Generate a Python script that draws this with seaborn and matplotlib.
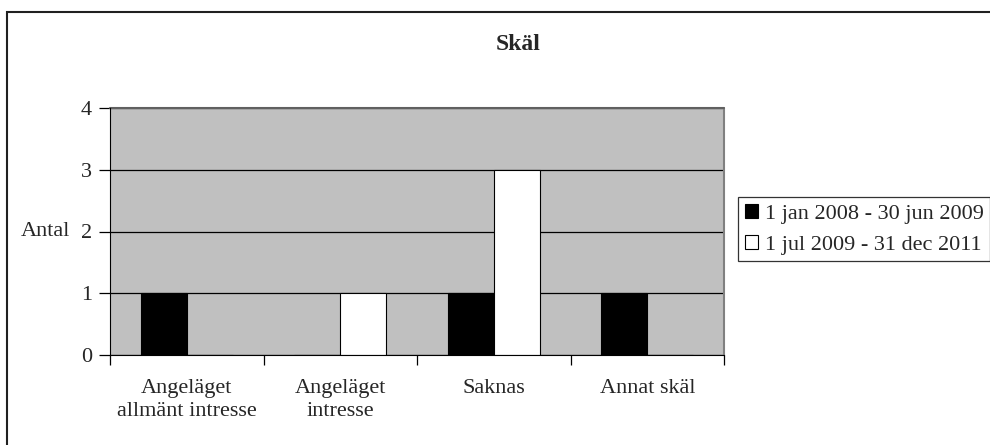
import matplotlib
matplotlib.use("Agg")
import matplotlib.pyplot as plt
from matplotlib.patches import Rectangle, Patch
import seaborn as sns
import pandas as pd

categories = ["Angeläget\nallmänt intresse", "Angeläget\nintresse", "Saknas", "Annat skäl"]
series_names = ["1 jan 2008 - 30 jun 2009", "1 jul 2009 - 31 dec 2011"]
period1 = [1, 0, 1, 1]
period2 = [0, 1, 3, 0]

rows = []
for cat, a, b in zip(categories, period1, period2):
    rows.append((cat, series_names[0], a))
    rows.append((cat, series_names[1], b))
df = pd.DataFrame(rows, columns=["skal", "period", "antal"])

sns.set_style("white")
plt.rcParams["font.family"] = ["Liberation Serif", "DejaVu Serif"]
fs = 16

fig = plt.figure(figsize=(9.9, 4.45), dpi=100)
ax = fig.add_axes([110 / 990, 90 / 445, 614 / 990, 247 / 445])

sns.barplot(
    data=df, x="skal", y="antal", hue="period",
    palette=["black", "white"], width=0.6, edgecolor="black", linewidth=0.8,
    ax=ax, legend=False, saturation=1,
)

ax.set_facecolor("#C0C0C0")
ax.set_ylim(0, 4)
ax.set_xlim(-0.5, 3.5)
ax.set_yticks([0, 1, 2, 3, 4])
ax.yaxis.grid(True, color="black", linewidth=0.9)
ax.set_axisbelow(True)
for s in ["top", "right"]:
    ax.spines[s].set_visible(False)
ax.spines["left"].set_color("black")
ax.spines["bottom"].set_color("black")
ax.plot([1, 1], [0, 1], transform=ax.transAxes, color="#808080", lw=1.5, clip_on=False)
ax.plot([0, 1], [1, 1], transform=ax.transAxes, color="#606060", lw=1.5, clip_on=False)

# category boundary tick marks like Excel
ax.set_xticks([-0.5, 0.5, 1.5, 2.5, 3.5], minor=True)
ax.tick_params(axis="x", which="minor", length=7, width=0.9, color="black", bottom=True)
ax.tick_params(axis="x", which="major", length=0, labelsize=fs, pad=17)
ax.tick_params(axis="y", length=8, width=0.9, color="black", labelsize=fs, left=True, pad=5)
for lab in ax.get_xticklabels():
    lab.set_linespacing(1.3)
ax.set_xlabel("")
ax.set_ylabel("Antal", rotation=0, fontsize=fs, va="center", ha="right")
ax.yaxis.set_label_coords(-0.065, 0.5)

fig.text(518 / 990, 1 - 45 / 445, "Skäl",
         ha="center", va="center", fontsize=17, fontweight="bold")

handles = [Patch(facecolor=c, edgecolor="black", linewidth=0.8) for c in ["black", "white"]]
leg = fig.legend(handles, series_names, loc="upper left", bbox_to_anchor=(738 / 990, 1 - 197 / 445),
                 frameon=True, fancybox=False, edgecolor="black", fontsize=fs,
                 handlelength=0.6, handleheight=0.6, handletextpad=0.3, borderpad=0.3,
                 labelspacing=0.5, borderaxespad=0)
leg.get_frame().set_linewidth(0.9)

fig.patches.append(Rectangle((7 / 990, -0.1), 1.2, 1 - 12 / 445 + 0.1, transform=fig.transFigure,
                             fill=False, edgecolor="#202020", linewidth=1.5))

fig.savefig("out.png", dpi=100, facecolor="white")
